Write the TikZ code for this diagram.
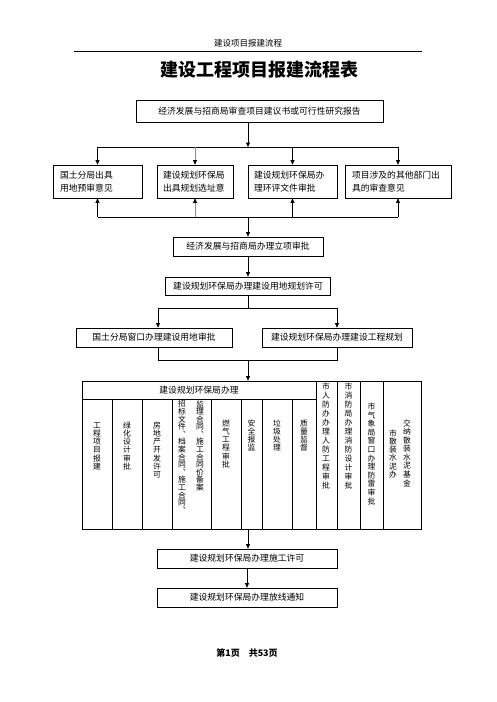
\documentclass[tikz,border=0pt]{standalone}
\usepackage{fontspec}
\setmainfont{Noto Sans CJK SC}
\usetikzlibrary{arrows.meta}
\newdimen\vpitch
\def\vtl#1{\ifx\relax#1\else\vbox to\vpitch{\vss\hbox to 10pt{\hss#1\hss}\vss}\expandafter\vtl\fi}
\newcommand\vtext[2]{\vpitch=#1pt\relax\vbox{\offinterlineskip\vtl#2\relax}}
\begin{document}
\begin{tikzpicture}[x=1pt,y=-1pt,
  box/.style={draw, line width=0.7pt, inner sep=0pt, font=\fontsize{8.8}{13}\selectfont},
  lbox/.style={box, inner xsep=7pt, align=left},
  conn/.style={line width=0.7pt},
  arr/.style={conn, -{Triangle[length=4.5pt,width=4pt]}},
  garr/.style={line width=0.9pt, draw=black!45, -{Triangle[length=4.5pt,width=4pt,color=black]}},
  vt/.style={inner sep=0pt, anchor=north, font=\fontsize{7.8}{8}\selectfont}]
\useasboundingbox (0,0) rectangle (496,702);
% header
\node[font=\fontsize{8.5}{10}\selectfont] (hdr) at (248,43) {建设项目报建流程};
\draw[line width=0.8pt] (74,51) -- (422,51);
\node[font=\fontsize{18}{20}\selectfont\bfseries] (title) at (259,70) {建设工程项目报建流程表};
% top box
\node[box, minimum width=247pt, minimum height=22pt] (b1) at (259.5,111) {经济发展与招商局审查项目建议书或可行性研究报告};
% row boxes
\node[lbox, text width=75pt, minimum height=33pt] (bA) at (97.5,181.5) {国土分局出具\\用地预审意见};
\node[lbox, inner xsep=6pt, text width=64pt, minimum height=33pt] (bB) at (195,181.5) {建设规划环保局\\出具规划选址意};
\node[lbox, inner xsep=6pt, text width=77pt, minimum height=33pt] (bC) at (292.5,181.5) {建设规划环保局办\\理环评文件审批};
\node[lbox, text width=92pt, minimum height=33pt] (bD) at (398,181.5) {项目涉及的其他部门出\\具的审查意见};
\coordinate (j1) at (248,147);
\coordinate (j2) at (248,217);
\draw[arr] (b1.south -| j1) -- (j1);
\draw[conn] (bA.north |- j1) -- (bD.north |- j1);
\draw[arr] (bA.north |- j1) -- (bA.north);
\draw[garr] (bB.north |- j1) -- (bB.north);
\draw[arr] (bC.north |- j1) -- (bC.north);
\draw[arr] (bD.north |- j1) -- (bD.north);
\draw[conn] (bA.south |- j2) -- (bD.south |- j2);
\draw[arr] (bA.south |- j2) -- (bA.south);
\draw[garr] (bB.south |- j2) -- (bB.south);
\draw[arr] (bC.south |- j2) -- (bC.south);
\draw[arr] (bD.south |- j2) -- (bD.south);
% approval chain
\node[box, minimum width=150pt, minimum height=19pt] (b3) at (248,246.5) {经济发展与招商局办理立项审批};
\node[box, minimum width=165pt, minimum height=18pt] (b4) at (248,286) {建设规划环保局办理建设用地规划许可};
\draw[arr] (j2) -- (b3.north);
\draw[arr] (b3.south) -- (b4.north);
\coordinate (jL) at (158,308);
\coordinate (jR) at (337,308);
\node[box, minimum width=156pt, minimum height=19pt] (b5L) at (154,337.5) {国土分局窗口办理建设用地审批};
\node[box, minimum width=150pt, minimum height=19pt] (b5R) at (337,337.5) {建设规划环保局办理建设工程规划};
\draw[conn] (b4.south) -- (b4.south |- jL);
\draw[conn] (jL) -- (jR);
\draw[arr] (jL) -- (jL |- b5L.north);
\draw[arr] (jR) -- (b5R.north);
\coordinate (kL) at (158,360);
\coordinate (kR) at (337,360);
\coordinate (kM) at (248,360);
\draw[conn] (kL |- b5L.south) -- (kL) -- (kR) -- (b5R.south);
% big table
\node[draw, line width=0.7pt, minimum width=339pt, minimum height=148pt, inner sep=0pt] (big) at (251.5,455) {};
\draw[arr] (kM) -- (kM |- big.north);
\draw[conn] (82,399) -- (316,399);
\foreach \x in {112,142,172,211,241,262,292} {\draw[conn] (\x,399) -- (\x,529);}
\foreach \x in {316,337,360,383} {\draw[conn] (\x,381) -- (\x,529);}
\node[font=\fontsize{8.8}{10}\selectfont] (hd) at (199,390) {建设规划环保局办理};
\node[vt] (v1) at (97,421) {\vtext{8.2}{工程项目报建}};
\node[vt] (v2) at (127,421) {\vtext{8.2}{绿化设计审批}};
\node[vt] (v3) at (157,421) {\vtext{8.2}{房地产开发许可}};
\node[vt] (v4a) at (200,400) {\vtext{7.6}{监理合同︑施工合同价备案}};
\node[vt] (v4b) at (182,400) {\vtext{7.6}{招标文件︑档案合同︑施工合同︑}};
\node[vt] (v5) at (226,419) {\vtext{8.2}{燃气工程审批}};
\node[vt] (v6) at (251.5,419) {\vtext{8.2}{安全报监}};
\node[vt] (v7) at (277,419) {\vtext{8.2}{垃圾处理}};
\node[vt] (v8) at (304,419) {\vtext{8.2}{质量监督}};
\node[vt] (v9) at (326,382) {\vtext{9}{市人防办办理人防工程审批}};
\node[vt] (v10) at (348.5,382) {\vtext{9}{市消防局办理消防设计审批}};
\node[vt] (v11) at (371.5,402) {\vtext{8.6}{市气象局窗口办理防雷审批}};
\node[vt] (v12a) at (407,419) {\vtext{8.5}{交纳散装水泥基金}};
\node[vt] (v12b) at (393,429) {\vtext{8.2}{市散装水泥办}};
% final chain
\node[box, minimum width=180pt, minimum height=19pt] (b6) at (247,558.5) {建设规划环保局办理施工许可};
\node[box, minimum width=180pt, minimum height=19pt] (b7) at (247,597.5) {建设规划环保局办理放线通知};
\draw[arr] (big.south -| kM) -- (kM |- b6.north);
\draw[arr] (b6.south) -- (b7.north);
\node[font=\fontsize{9}{10}\selectfont\bfseries] (ft) at (247,653) {第1页\hspace{1em}共53页};
\end{tikzpicture}
\end{document}
